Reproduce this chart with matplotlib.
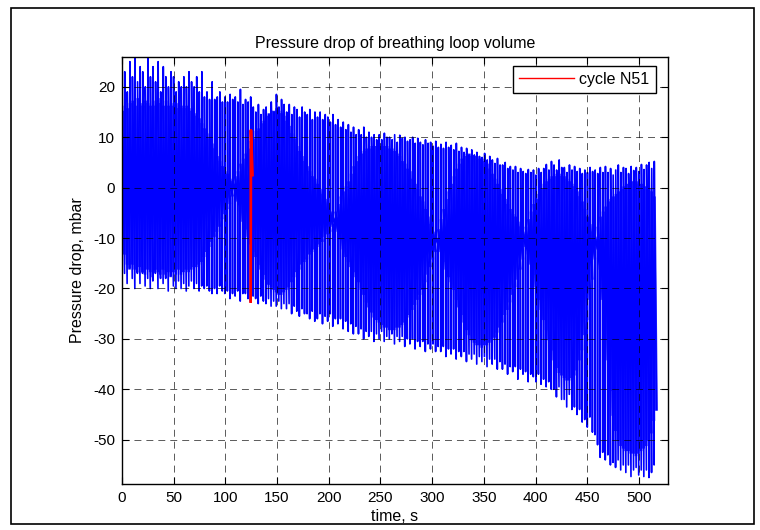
import numpy as np
import matplotlib
matplotlib.use("Agg")
import matplotlib.pyplot as plt
from matplotlib.patches import Rectangle

plt.rcParams['font.family'] = ['Liberation Sans', 'DejaVu Sans']
plt.rcParams['lines.scale_dashes'] = False
plt.rcParams['axes.unicode_minus'] = False

period = 2.486  # s, one breathing cycle

# per-cycle values, mbar (4 cycles per row, ~10 s per row)
cycle_peak = [
    24, 23, 19, 25,
    22, 26, 21, 24,
    23, 20, 26, 22,
    24, 21, 25, 19,
    24, 22, 20, 23,
    22, 19, 21, 20,
    22, 20, 23, 21,
    20, 22, 19, 23,
    18, 19, 17.5, 21,
    17.5, 18, 19, 17,
    18, 17, 18.5, 17.5,
    18, 17, 19.5, 16.5,
    17.5, 17, 18, 16,
    15, 16.5, 14.5, 15.5,
    16, 14.5, 17, 15,
    18.5, 16, 17.5, 16.5,
    15, 16.5, 14.5, 16,
    15.5, 14, 16, 15,
    14.5, 15.5, 13.5, 15,
    14, 15, 13.5, 14.5,
    14, 13, 14.5, 12.5,
    13.5, 12, 13, 11.5,
    12.5, 11, 12, 10.5,
    11.5, 10.5, 12, 10,
    11, 10, 10.5, 9.5,
    10.5, 9.5, 10.8, 10,
    10, 9.5, 10.5, 9,
    10.4, 9.8, 10, 9.2,
    9.5, 10, 8.8, 9.8,
    9, 8.5, 9.5, 8.8,
    9, 8.2, 9.2, 8,
    8.6, 7.8, 9, 8,
    8.4, 7.5, 8.8, 7.2,
    8, 7, 7.8, 6.5,
    7.5, 6.5, 7, 6.2,
    6, 6.8, 5.5, 6.2,
    5.5, 4.8, 5.8, 4.5,
    4.5, 5, 3.8, 4.2,
    3.5, 4.2, 3, 3.8,
    3.2, 2.8, 3.6, 3,
    3.5, 2.5, 3.8, 3,
    3.8, 4.6, 3.5, 5.2,
    4.5, 3.5, 5.5, 4,
    4, 3, 4.5, 3.5,
    4.2, 3.2, 3.8, 2.8,
    3.5, 3, 4, 3.2,
    3.5, 2.8, 4, 3,
    4.2, 3, 3.8, 2.5,
    3.5, 4.5, 3, 4,
    3.8, 2.8, 4.2, 3.4,
    4, 3.2, 4.6, 3.6,
    4.5, 5, 3.8, 5.2]

cycle_trough = [
    -14, -17, -19, -16,
    -18, -20, -17, -19,
    -17, -19.5, -18, -20,
    -18.5, -17, -20, -18,
    -19, -18, -20.5, -17.5,
    -19.5, -20, -18.5, -20,
    -19, -20.5, -19.5, -18.5,
    -20, -19, -20.5, -19.5,
    -20, -19.5, -20.5, -21,
    -20, -21, -19.5, -20.5,
    -21, -20.5, -22, -21,
    -21.5, -20.5, -22.5, -21,
    -21, -22, -22.6, -21.5,
    -22, -23, -21.5, -22.5,
    -23, -22, -23.5, -22.5,
    -23.5, -22.5, -24, -23,
    -24, -23, -25, -23.5,
    -24.5, -25.5, -24, -25,
    -25, -26, -24.5, -26.5,
    -26, -25, -27, -25.5,
    -26.5, -25, -27.5, -26,
    -27, -26, -28, -26.5,
    -28.5, -27, -29, -27.5,
    -29, -28, -30, -28.5,
    -29.5, -28.5, -30.5, -29,
    -30, -28.5, -30.5, -29.5,
    -30, -29, -31, -29.5,
    -30.5, -29.5, -31.5, -30,
    -31, -30, -32, -30.5,
    -31.5, -30.5, -32.5, -31,
    -32, -31, -32.5, -31.5,
    -32.5, -31.5, -33.5, -32,
    -33, -32, -34, -32.5,
    -33.5, -32.5, -34.5, -33,
    -34, -33, -35, -33.5,
    -34.5, -33.5, -35.5, -34,
    -35, -34, -36, -34.5,
    -36, -35, -37, -35.5,
    -36.5, -35.5, -38, -36,
    -37, -36.5, -38.5, -37,
    -37.5, -38.5, -37, -39,
    -38, -39.5, -38.5, -40,
    -40, -41.5, -39.5, -42,
    -42, -43.5, -41, -44,
    -43.5, -45, -44, -46.5,
    -46, -47.5, -45.5, -48.5,
    -49, -51, -53.5, -52.5,
    -54, -53, -55, -54.5,
    -55.5, -54, -56, -55,
    -56.5, -55, -57.3, -56,
    -55.5, -57, -56, -57.3,
    -56, -57.5, -56.5, -55]

# slow part of each cycle (the dense band between the spikes)
inner_top = [
    15, 16, 15.5, 16.5,
    17, 16, 17.5, 16.5,
    16, 17, 16.5, 16,
    17, 16, 17.5, 16.5,
    16, 17, 16, 16.5,
    16, 16.5, 15.5, 16,
    15.5, 16, 15, 15.5,
    14.5, 14, 13.5, 12.5,
    11.5, 10.5, 9.5, 8.5,
    7.5, 6, 5, 4,
    3, 2.5, 1.5, 1,
    2, 3, 4.5, 5.5,
    6.5, 7.5, 9, 9.5,
    11, 11.5, 12.5, 13,
    14, 14.5, 15, 15,
    15.5, 15, 14.5, 14,
    13, 12, 10.5, 9.5,
    8, 7, 6, 5,
    4, 3, 2, 1.5,
    0.5, -0.5, -1.5, -2.5,
    -3.5, -5, -6, -5,
    -3.5, -2, -1, 0,
    1, 2.5, 4, 5,
    6, 6.5, 7, 7.5,
    7.5, 8, 8, 8,
    8, 8.5, 8, 8,
    7.5, 7.5, 7, 6.5,
    6, 5, 4.5, 3.5,
    3, 1.5, 0.5, -0.5,
    -2, -3, -4.5, -6,
    -7.5, -9, -10, -8.5,
    -6.5, -4.5, -2.5, -1,
    0.5, 2, 3.5, 4.5,
    5.5, 6, 6.5, 6.5,
    6, 6, 6, 5.5,
    5.5, 5, 4.5, 3.5,
    2.5, 1.5, 0.5, -0.5,
    -1.5, -2.5, -3.5, -4.5,
    -5.5, -6, -7, -8,
    -9, -8, -6.5, -5,
    -3.5, -2.5, -1.5, -0.5,
    0.5, 1, 1.5, 2,
    2, 2.5, 2.5, 2,
    2, 1.5, 1, 0.5,
    0, -1, -2, -3,
    -4.5, -6, -7.5, -9,
    -10, -8, -6, -5,
    -4, -3, -2.5, -2,
    -1.5, -1, -0.5, 0,
    0.5, 0.5, 1, 1,
    1, 0.5, 0.5, 0,
    0, -0.5, -1, -2]

inner_bottom = [
    -13, -15, -16, -15,
    -16, -16.5, -15.5, -16.5,
    -17, -16, -16.5, -17.5,
    -16, -16.5, -17, -16,
    -17, -16.5, -17.5, -16.5,
    -17, -16, -17, -16.5,
    -16, -16.5, -16, -15.5,
    -15.5, -15, -14.5, -13.5,
    -12.5, -11.5, -10.5, -9.5,
    -8.5, -7.5, -6, -5,
    -4, -3, -1.5, -0.5,
    -2.5, -4.5, -6.5, -8,
    -9.5, -11, -12.5, -13.5,
    -15, -16, -17, -18,
    -19, -19.5, -20, -20.5,
    -21, -21, -20.5, -20,
    -19.5, -18.5, -17.5, -16.5,
    -16, -15, -14.5, -14,
    -13, -12.5, -12, -11.5,
    -11, -10.5, -9.5, -9,
    -8.5, -7.5, -7, -8.5,
    -10, -12, -13.5, -14.5,
    -15.5, -16.5, -17.5, -18.5,
    -20, -21, -22.5, -23.5,
    -24.5, -25.5, -26, -26.5,
    -27, -27.5, -27.5, -28,
    -28, -28, -27.5, -27.5,
    -27, -26.5, -25.5, -25,
    -24, -23, -22, -21,
    -20, -18.5, -17, -15.5,
    -14, -12.5, -11, -12.5,
    -14.5, -16, -17.5, -18.5,
    -20, -22, -23.5, -25,
    -26.5, -28, -29, -30,
    -30.5, -31, -31, -31.5,
    -31, -31, -30.5, -30,
    -29.5, -28.5, -27.5, -26.5,
    -25, -24, -22.5, -21,
    -19.5, -18, -16, -14,
    -11.5, -13, -15, -17,
    -19.5, -22, -24, -26,
    -28, -30, -32, -34,
    -35.5, -36.5, -37, -37.5,
    -38, -38, -37.5, -37,
    -36, -34, -32, -29,
    -26, -22, -18, -14,
    -12, -16, -22, -28,
    -34, -40, -45, -48,
    -50, -51, -51.5, -52,
    -52, -52.5, -52.5, -53,
    -52.5, -52, -51.5, -51,
    -50, -48.5, -46, -44]

# cycle N51, highlighted
red_t = [124.4, 124.7, 126.2]
red_p = [-22.6, 11.4, 2.5]

n = min(len(cycle_peak), len(cycle_trough), len(inner_top), len(inner_bottom))
t_start = np.arange(n) * period
phase = np.array([0.0, 0.07, 0.15, 0.93]) * period
t = (t_start[:, None] + phase[None, :]).ravel()
p = np.column_stack([cycle_trough[:n], cycle_peak[:n],
                     inner_top[:n], inner_bottom[:n]]).ravel()

# the slow part of every cycle, drawn a bit heavier so it reads as a band
slow_t = np.column_stack([t_start + phase[2], t_start + phase[3],
                          np.full(n, np.nan)]).ravel()
slow_p = np.column_stack([inner_top[:n], inner_bottom[:n],
                          np.full(n, np.nan)]).ravel()

fig = plt.figure(figsize=(7.6, 5.3), dpi=100)
ax = fig.add_axes([0.1605, 0.0862, 0.718, 0.807])

ax.plot(slow_t, slow_p, color='#2a2aff', lw=1.9, zorder=2)
ax.plot(t, p, color='blue', lw=1.2, zorder=2.1)
l_red, = ax.plot(red_t, red_p, color='red', lw=2.0, zorder=3)

ax.set_xlim(0, 527.7)
ax.set_ylim(-58.85, 26)
ax.set_xticks(np.arange(0, 501, 50))
ax.set_yticks(np.arange(-50, 21, 10))

ax.set_axisbelow(False)
ax.grid(True, color='black', linestyle=(0, (5, 3.6)), lw=0.6, alpha=0.75)
ax.tick_params(direction='in', top=True, right=True, length=5, width=0.8,
               labelsize=11, pad=5)
for s in ax.spines.values():
    s.set_linewidth(1.0)

ax.set_title('Pressure drop of breathing loop volume', fontsize=11.5, pad=6)
ax.set_xlabel('time, s', fontsize=11.5, labelpad=3)
ax.set_ylabel('Pressure drop, mbar', fontsize=11.5, labelpad=6)

leg = ax.legend([l_red], ['cycle N51'], loc='upper right',
                bbox_to_anchor=(0.978, 0.979), borderaxespad=0,
                fancybox=False, edgecolor='black', framealpha=1,
                fontsize=11.5, handlelength=3.4, handletextpad=0.35,
                borderpad=0.4)
leg.get_frame().set_linewidth(1.0)
leg.get_lines()[0].set_linewidth(1.0)

# outer figure border
fig.patches.append(Rectangle((0.0145, 0.0113), 0.9776, 0.9736,
                             transform=fig.transFigure, fill=False,
                             edgecolor='black', lw=1.2))

fig.savefig('out.png', dpi=100)
